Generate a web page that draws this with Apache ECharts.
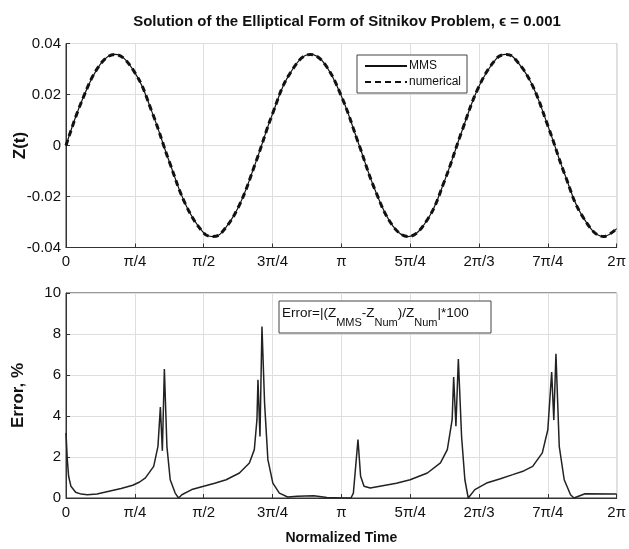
<!DOCTYPE html>
<html>
<head>
<meta charset="utf-8">
<script src="https://cdn.jsdelivr.net/npm/echarts@6/dist/echarts.min.js"></script>
<style>html,body{margin:0;padding:0;background:#fff;}#c{width:629px;height:549px;}</style>
</head>
<body>
<div id="c"></div>
<script>
// x in units of pi/4
const xTickLabels = ['0', 'π/4', 'π/2', '3π/4', 'π', '5π/4', '2π/3', '7π/4', '2π'];

const tZ = [0, 0.25, 0.5, 0.71, 1.0, 1.25, 1.5, 1.75, 2.0, 2.13, 2.25, 2.5, 2.75, 3.0, 3.25, 3.55, 3.75, 4.0, 4.25, 4.5, 4.75, 4.97, 5.25, 5.5, 5.75, 6.0, 6.25, 6.39, 6.5, 6.75, 7.0, 7.25, 7.5, 7.81, 8.0];
const zMMS = [0, 0.0188, 0.0319, 0.0357, 0.0286, 0.0131, -0.0063, -0.0238, -0.0343, -0.0357, -0.0345, -0.0244, -0.0071, 0.0124, 0.0281, 0.0357, 0.0323, 0.0194, 0.0008, -0.0181, -0.0316, -0.0357, -0.0291, -0.0138, 0.0055, 0.0232, 0.0340, 0.0357, 0.0346, 0.0250, 0.0078, -0.0116, -0.0276, -0.0357, -0.0326];
const zNum = [0, 0.0188, 0.0319, 0.0357, 0.0286, 0.0131, -0.0063, -0.0238, -0.0343, -0.0357, -0.0345, -0.0244, -0.0071, 0.0124, 0.0281, 0.0357, 0.0323, 0.0194, 0.0008, -0.0181, -0.0316, -0.0357, -0.0291, -0.0138, 0.0055, 0.0232, 0.0340, 0.0357, 0.0346, 0.0250, 0.0078, -0.0116, -0.0276, -0.0357, -0.0326];

const tErr = [0, 0.019, 0.038, 0.072, 0.14, 0.22, 0.31, 0.45, 0.625, 0.8, 0.97, 1.07, 1.154, 1.274, 1.336, 1.371, 1.40, 1.429, 1.466, 1.514, 1.586, 1.635, 1.683, 1.827, 2.0, 2.16, 2.327, 2.52, 2.664, 2.736, 2.774, 2.789, 2.818, 2.847, 2.885, 2.933, 3.005, 3.1, 3.22, 3.36, 3.6, 3.79, 4.0, 4.14, 4.175, 4.242, 4.28, 4.33, 4.42, 4.6, 4.8, 5.0, 5.25, 5.44, 5.54, 5.61, 5.632, 5.665, 5.70, 5.747, 5.795, 5.844, 5.94, 6.11, 6.3, 6.49, 6.65, 6.78, 6.92, 7.0, 7.056, 7.087, 7.118, 7.166, 7.238, 7.33, 7.38, 7.54, 7.97, 8.0];
const errVals = [3.17, 1.87, 1.06, 0.57, 0.28, 0.19, 0.16, 0.2, 0.33, 0.46, 0.62, 0.78, 0.98, 1.54, 2.52, 4.44, 2.3, 6.29, 2.52, 0.89, 0.24, 0.0, 0.16, 0.41, 0.57, 0.72, 0.89, 1.22, 1.71, 2.36, 3.82, 5.77, 3.0, 8.37, 4.63, 1.87, 0.73, 0.24, 0.05, 0.08, 0.11, 0.03, 0.0, 0.0, 0.24, 2.85, 1.06, 0.57, 0.49, 0.6, 0.72, 0.89, 1.22, 1.71, 2.36, 3.82, 5.9, 3.5, 6.78, 3.0, 0.89, 0.0, 0.41, 0.73, 0.93, 1.14, 1.32, 1.54, 2.2, 3.33, 6.15, 3.8, 7.04, 2.52, 0.89, 0.16, 0.0, 0.21, 0.2, 0.2];

const pair = (xs, ys) => xs.map((x, i) => [x, ys[i]]);
const FONT = 'Liberation Sans, Arial, sans-serif';

const chart = echarts.init(document.getElementById('c'), null, {renderer: 'canvas'});

const xAxisCommon = {
  type: 'value', min: 0, max: 8, interval: 1,
  axisLine: {show: true, onZero: false, lineStyle: {color: '#333', width: 1}},
  axisTick: {show: true, inside: true, length: 4, lineStyle: {color: '#333'}},
  axisLabel: {color: '#111', fontSize: 15, fontFamily: FONT, margin: 7,
    formatter: v => xTickLabels[Math.round(v)]},
  splitLine: {show: true, lineStyle: {color: '#dedede', width: 1}}
};
const yAxisCommon = {
  type: 'value',
  axisLine: {show: true, lineStyle: {color: '#333', width: 1}},
  axisTick: {show: true, inside: true, length: 4, lineStyle: {color: '#333'}},
  axisLabel: {color: '#111', fontSize: 15, fontFamily: FONT, margin: 5},
  splitLine: {show: true, lineStyle: {color: '#dedede', width: 1}},
  nameLocation: 'middle',
  nameMoveOverlap: false,
  nameTextStyle: {fontSize: 17, fontWeight: 'bold', color: '#111', fontFamily: FONT}
};

chart.setOption({
  animation: false,
  backgroundColor: '#fff',
  title: {
    text: 'Solution of the Elliptical Form of Sitnikov Problem, ϵ = 0.001',
    left: 342, textAlign: 'center', top: 9,
    textStyle: {fontSize: 15, fontWeight: 'bold', color: '#111', fontFamily: FONT}
  },
  grid: [
    {left: 66, right: 8, top: 43.5, height: 204, show: true, borderColor: '#333', borderWidth: 1, backgroundColor: 'transparent'},
    {left: 66, right: 8, top: 293, height: 205, show: true, borderColor: '#333', borderWidth: 1, backgroundColor: 'transparent'}
  ],
  xAxis: [
    Object.assign({gridIndex: 0}, xAxisCommon),
    Object.assign({gridIndex: 1, name: 'Normalized Time', nameLocation: 'middle', nameGap: 33, nameMoveOverlap: false,
      nameTextStyle: {fontSize: 14, fontWeight: 'bold', color: '#111', fontFamily: FONT}}, xAxisCommon)
  ],
  yAxis: [
    Object.assign({gridIndex: 0, min: -0.04, max: 0.04, interval: 0.02, name: 'Z(t)', nameGap: 37}, yAxisCommon),
    Object.assign({gridIndex: 1, min: 0, max: 10, interval: 2, name: 'Error, %', nameGap: 39}, yAxisCommon)
  ],
  legend: {
    data: ['MMS', 'numerical'],
    orient: 'vertical', left: 357, top: 55,
    backgroundColor: '#fff', borderColor: '#444', borderWidth: 1, borderRadius: 0,
    padding: [5, 6, 5, 7], itemGap: 4, itemWidth: 42, itemHeight: 10,
    itemStyle: {color: 'transparent', borderWidth: 0, opacity: 0},
    textStyle: {fontSize: 12, color: '#111', fontFamily: FONT, padding: [0, 0, 0, -3]}
  },
  graphic: [
    {type: 'rect', shape: {x: 279, y: 301, width: 212, height: 32}, style: {fill: '#fff', stroke: '#444', lineWidth: 1}, z: 100},
    {type: 'text', x: 282, y: 304, z: 101, style: {
      text: '{m|Error=|(Z}{s|MMS}{m|-Z}{s|Num}{m|)/Z}{s|Num}{m||*100}',
      rich: {
        m: {fontSize: 13.5, fontFamily: FONT, fill: '#111', lineHeight: 24, verticalAlign: 'top', height: 18},
        s: {fontSize: 11, fontFamily: FONT, fill: '#111', lineHeight: 24, verticalAlign: 'bottom'}
      }
    }}
  ],
  series: [
    {name: 'MMS', type: 'line', xAxisIndex: 0, yAxisIndex: 0, data: pair(tZ, zMMS), smooth: 0.4, showSymbol: false, symbol: 'none',
      lineStyle: {color: '#111', width: 1.2, type: 'solid'}, itemStyle: {color: '#111'}},
    {name: 'numerical', type: 'line', xAxisIndex: 0, yAxisIndex: 0, data: pair(tZ, zNum), smooth: 0.4, showSymbol: false, symbol: 'none',
      lineStyle: {color: '#111', width: 3, type: [6, 4]}, itemStyle: {color: '#111'}},
    {name: 'Error', type: 'line', xAxisIndex: 1, yAxisIndex: 1, data: pair(tErr, errVals), smooth: false, showSymbol: false, symbol: 'none',
      lineStyle: {color: '#222', width: 1.5}}
  ]
});
</script>
</body>
</html>
